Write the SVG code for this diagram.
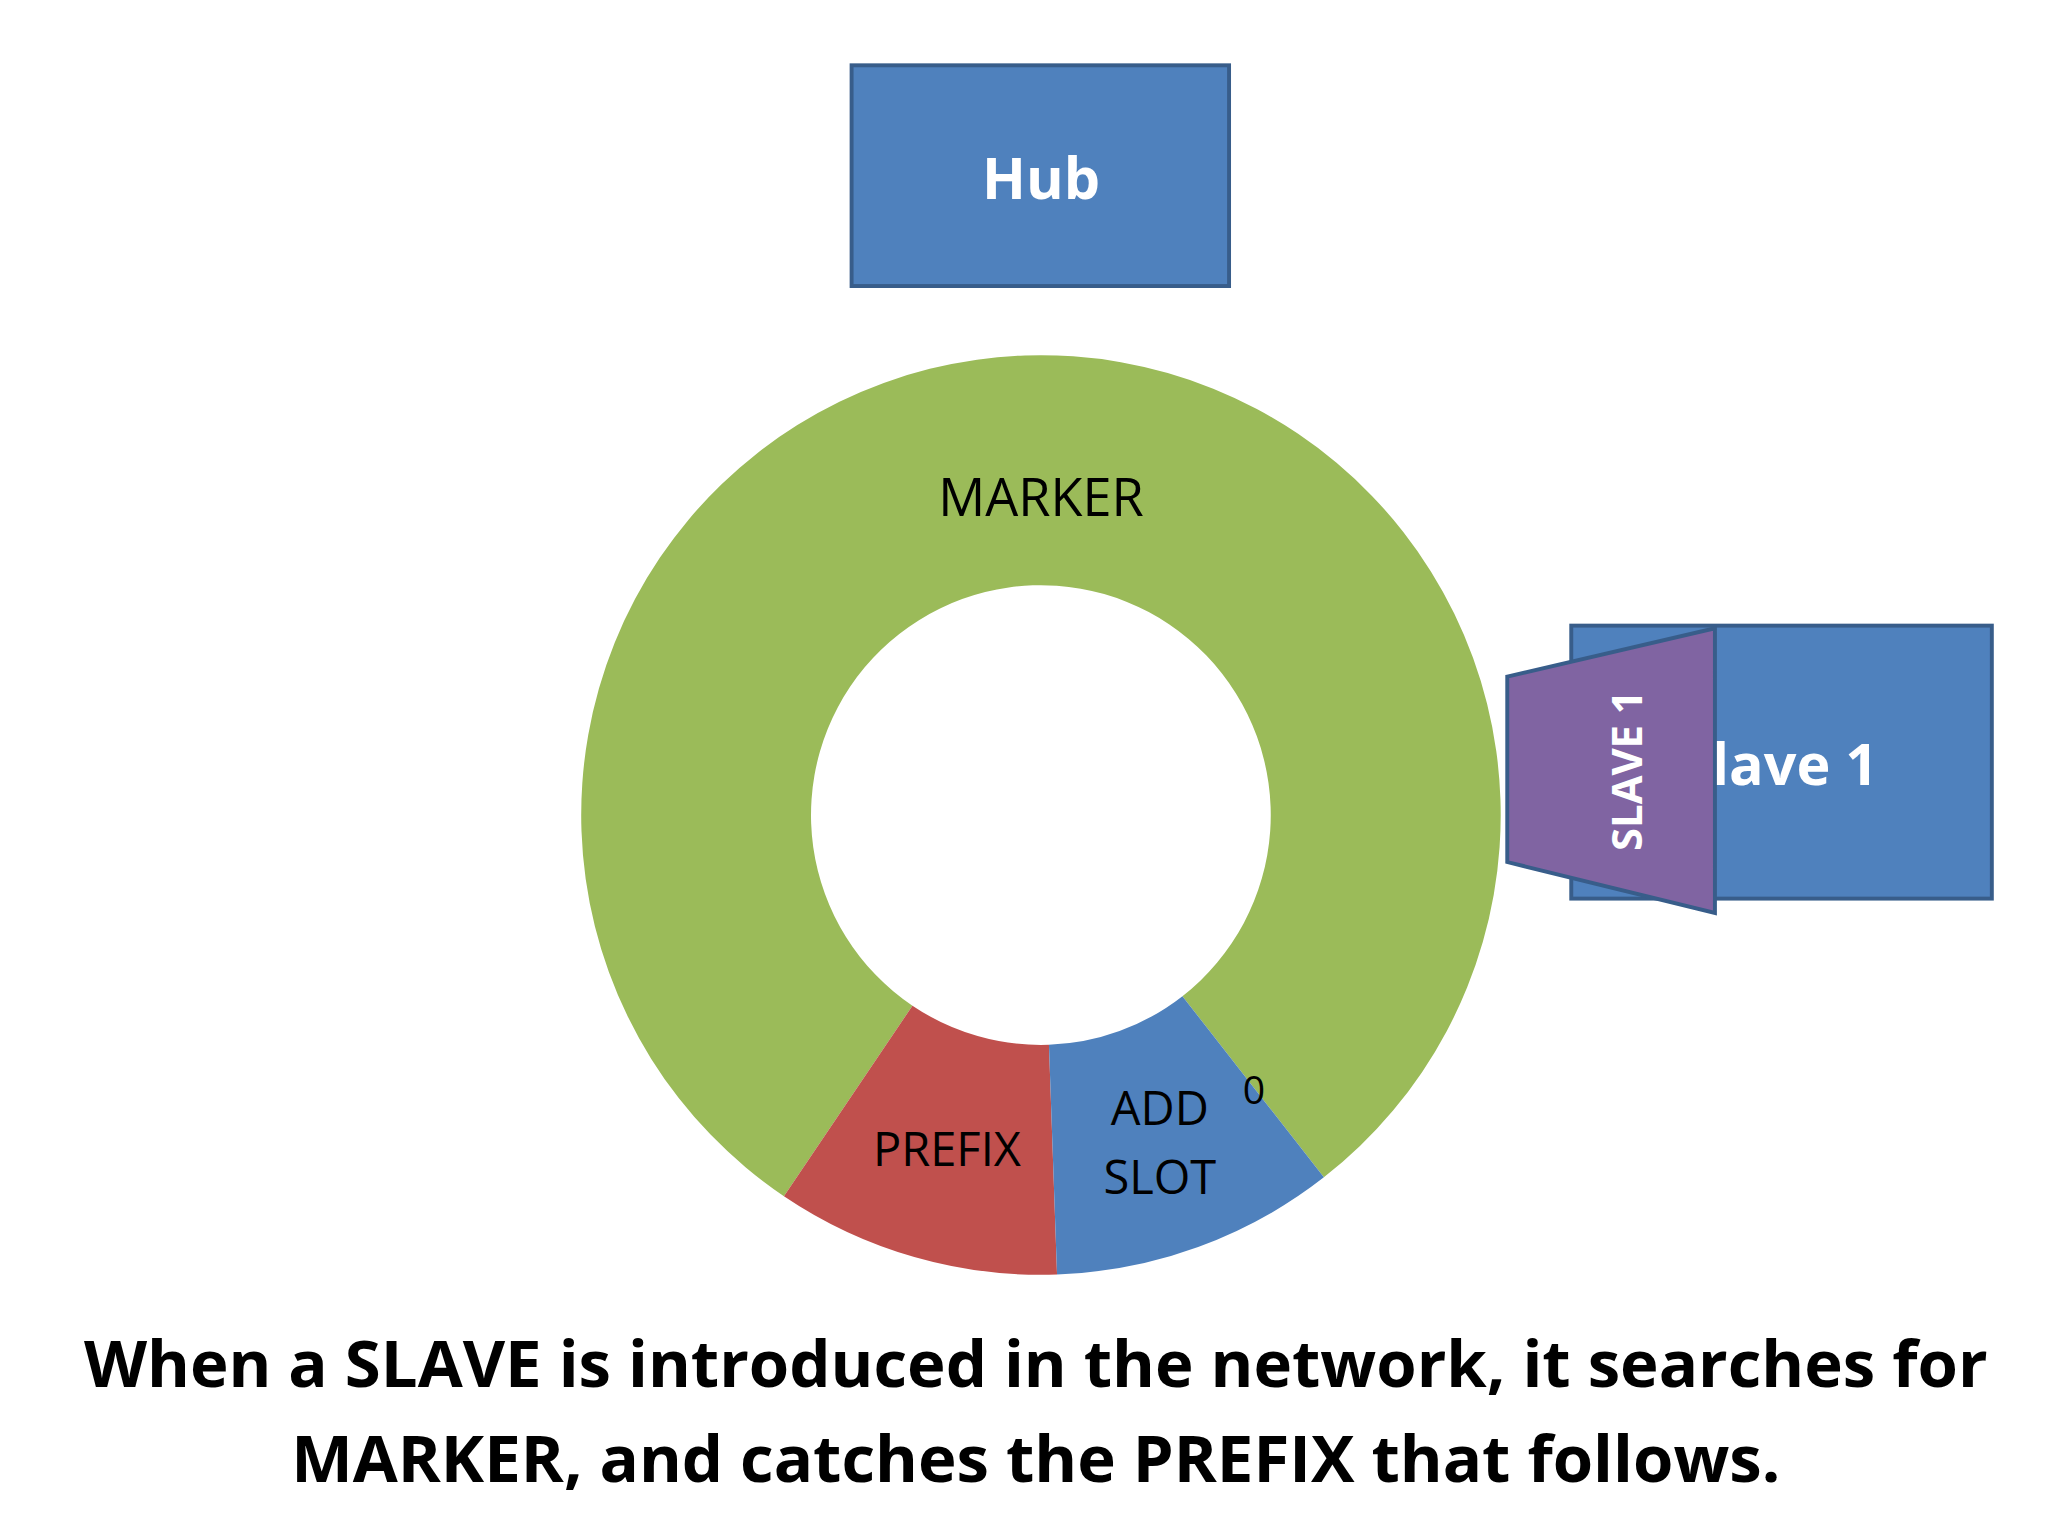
<svg xmlns="http://www.w3.org/2000/svg" width="2048" height="1536" viewBox="0 0 2048 1536">
<style>
.box{fill:#4f81bd;stroke:#385d8a;stroke-width:3}
.wt{fill:#fff;font-family:"Open Sans","Liberation Sans",sans-serif;font-weight:bold}
.lb{fill:#000;font-family:"Open Sans","Liberation Sans",sans-serif;text-anchor:middle}
</style>
<rect width="2048" height="1536" fill="#fff"/>
<g transform="scale(1.30612)">
<g id="hub"><rect class="box" x="652" y="50" width="289" height="169"/>
<text class="wt" x="797" y="152" font-size="44" text-anchor="middle">Hub</text></g>
<g id="ring">
<path id="marker" fill="#9bbb59" d="M600.2,915.8 A352,352 0 1 1 1013.6,901.4 L905.3,762.7 A176,176 0 1 0 698.6,770.0 Z"/>
<path id="prefix" fill="#c0504d" d="M600.2,915.8 A352,352 0 0 0 809.3,975.8 L803.1,799.9 A176,176 0 0 1 698.6,770.0 Z"/>
<path id="addslot" fill="#4f81bd" d="M809.3,975.8 A352,352 0 0 0 1013.6,901.4 L905.3,762.7 A176,176 0 0 1 803.1,799.9 Z"/>
<text class="lb" x="797" y="395" font-size="40">MARKER</text>
<text class="lb" x="725" y="893" font-size="36">PREFIX</text>
<text class="lb" x="888" y="861" font-size="36">ADD</text>
<text class="lb" x="888" y="914" font-size="36">SLOT</text>
<text class="lb" x="960" y="845" font-size="30">0</text>
</g>
<g id="slave1"><rect class="box" x="1203" y="479" width="322" height="209"/>
<text class="wt" x="1438" y="601" font-size="44" text-anchor="end">Slave 1</text></g>
<g id="slave1tag"><polygon points="1154,518 1313,481 1313,699 1154,660" fill="#8064a2" stroke="#385d8a" stroke-width="3"/>
<text class="wt" font-size="32" text-anchor="middle" transform="translate(1257,590) rotate(-90)">SLAVE 1</text></g>
<g id="caption" font-family="'Open Sans','Liberation Sans',sans-serif" font-weight="bold" font-size="50" text-anchor="middle">
<text x="793" y="1062">When a SLAVE is introduced in the network, it searches for</text>
<text x="793" y="1135">MARKER, and catches the PREFIX that follows.</text></g>
</g>
</svg>
